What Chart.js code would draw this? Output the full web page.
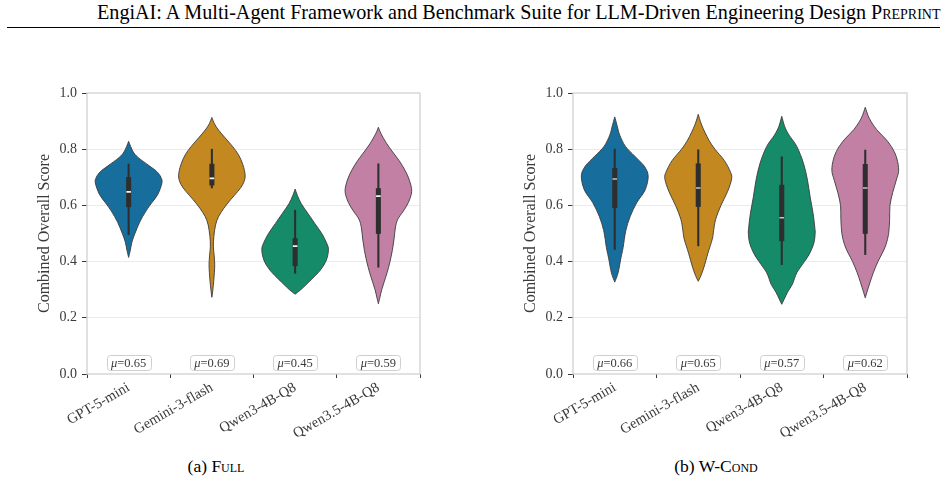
<!DOCTYPE html>
<html><head><meta charset="utf-8">
<script src="https://cdn.jsdelivr.net/npm/chart.js@4.4.1/dist/chart.umd.min.js"></script>
<style>
body{margin:0;width:948px;height:486px;position:relative;background:#fff;overflow:hidden;font-family:'Liberation Serif',serif;}
#hdr{position:absolute;top:1px;left:97px;font-size:20.3px;white-space:nowrap;color:#000;}
#pp{position:absolute;top:1px;left:871px;font-size:20.3px;white-space:nowrap;color:#000;font-variant:small-caps;}
#rule{position:absolute;top:27px;left:7px;width:933px;height:1px;background:#000;}
.cap{position:absolute;top:456px;font-size:17.5px;white-space:nowrap;transform:translateX(-50%);}
.cap .sc{font-variant:small-caps;}
canvas{position:absolute;}
</style></head>
<body>
<div id="hdr">EngiAI: A Multi-Agent Framework and Benchmark Suite for LLM-Driven Engineering Design</div>
<div id="pp">Preprint</div>
<div id="rule"></div>
<canvas id="c1" width="470" height="392" style="left:0;top:60px"></canvas>
<canvas id="c2" width="462" height="392" style="left:486px;top:60px"></canvas>
<div class="cap" style="left:216px">(a) <span class="sc">Full</span></div>
<div class="cap" style="left:716px">(b) W-<span class="sc">Cond</span></div>
<script>
// fit header text widths to the page layout
(function () {
  const fit = (id, target) => {
    const el = document.getElementById(id);
    const fs = parseFloat(getComputedStyle(el).fontSize);
    const w = el.getBoundingClientRect().width;
    if (w > 0) el.style.fontSize = (fs * target / w).toFixed(2) + 'px';
  };
  fit('hdr', 769);
  fit('pp', 69);
})();

// ---------------- data ----------------
const categories = ['GPT-5-mini', 'Gemini-3-flash', 'Qwen3-4B-Q8', 'Qwen3.5-4B-Q8'];
const violinColors = ['#176d9c', '#c38820', '#168b6a', '#c281a4'];

// (a) Full
const fullMeans = [0.65, 0.69, 0.45, 0.59];
const fullWhiskerLow = [0.496, 0.662, 0.358, 0.380];
const fullWhiskerHigh = [0.747, 0.800, 0.583, 0.748];
const fullQ1 = [0.595, 0.672, 0.385, 0.500];
const fullQ3 = [0.700, 0.747, 0.482, 0.660];
const fullMedian = [0.648, 0.696, 0.455, 0.633];
// violin outlines: [score, relative half-width]
const fullGptShape = [[0.415,0],[0.44,0.05],[0.47,0.10],[0.50,0.19],[0.54,0.33],[0.58,0.52],[0.61,0.70],[0.64,0.88],[0.68,1.0],[0.70,0.97],[0.72,0.85],[0.74,0.63],[0.77,0.29],[0.79,0.14],[0.81,0.06],[0.828,0]];
const fullGeminiShape = [[0.273,0],[0.30,0.03],[0.33,0.055],[0.36,0.075],[0.39,0.085],[0.42,0.07],[0.455,0.045],[0.49,0.06],[0.53,0.11],[0.56,0.20],[0.59,0.36],[0.62,0.56],[0.65,0.78],[0.675,0.93],[0.705,1.0],[0.745,0.93],[0.78,0.80],[0.81,0.62],[0.84,0.40],[0.868,0.20],[0.89,0.08],[0.913,0]];
const fullQwen3Shape = [[0.284,0],[0.30,0.17],[0.32,0.35],[0.335,0.48],[0.37,0.76],[0.406,0.94],[0.442,1.0],[0.465,0.95],[0.50,0.80],[0.536,0.59],[0.572,0.38],[0.607,0.18],[0.635,0.07],[0.658,0]];
const fullQwen35Shape = [[0.25,0],[0.27,0.04],[0.30,0.10],[0.33,0.18],[0.36,0.26],[0.40,0.35],[0.44,0.42],[0.48,0.47],[0.52,0.51],[0.55,0.58],[0.58,0.75],[0.61,0.90],[0.65,1.0],[0.69,0.93],[0.725,0.80],[0.76,0.62],[0.79,0.43],[0.82,0.25],[0.855,0.08],[0.878,0]];

// (b) W-Cond
const wcondMeans = [0.66, 0.65, 0.57, 0.62];
const wcondWhiskerLow = [0.443, 0.456, 0.389, 0.425];
const wcondWhiskerHigh = [0.800, 0.798, 0.773, 0.797];
const wcondQ1 = [0.592, 0.596, 0.474, 0.500];
const wcondQ3 = [0.732, 0.748, 0.672, 0.746];
const wcondMedian = [0.694, 0.662, 0.556, 0.662];
const wcondGptShape = [[0.327,0],[0.36,0.10],[0.41,0.18],[0.45,0.25],[0.51,0.33],[0.56,0.46],[0.61,0.66],[0.655,0.91],[0.705,1.0],[0.74,0.88],[0.775,0.60],[0.81,0.32],[0.85,0.15],[0.88,0.08],[0.915,0]];
const wcondGeminiShape = [[0.33,0],[0.35,0.08],[0.38,0.17],[0.43,0.29],[0.48,0.42],[0.51,0.46],[0.55,0.52],[0.60,0.68],[0.65,0.88],[0.695,1.0],[0.72,0.96],[0.76,0.78],[0.80,0.50],[0.83,0.33],[0.86,0.20],[0.89,0.09],[0.924,0]];
const wcondQwen3Shape = [[0.248,0],[0.29,0.17],[0.32,0.32],[0.36,0.45],[0.40,0.68],[0.43,0.84],[0.465,0.96],[0.50,1.0],[0.52,0.99],[0.57,0.94],[0.63,0.85],[0.69,0.77],[0.75,0.65],[0.81,0.45],[0.85,0.22],[0.88,0.09],[0.917,0]];
const wcondQwen35Shape = [[0.271,0],[0.295,0.06],[0.325,0.14],[0.36,0.24],[0.40,0.38],[0.43,0.51],[0.46,0.62],[0.50,0.70],[0.55,0.73],[0.60,0.74],[0.645,0.82],[0.69,0.93],[0.725,1.0],[0.765,0.95],[0.80,0.83],[0.835,0.62],[0.87,0.34],[0.91,0.12],[0.949,0]];

// ---------------- styling ----------------
const FONT = "'Liberation Serif', serif";
const TXT = '#3a3a3a';
const VIOLIN_HALF = 0.4;      // max half-width in category units
const LABEL_SCORE = 0.04;     // where the mean boxes sit

function splinePath(ctx, pts, first) {
  const n = pts.length;
  if (first) ctx.moveTo(pts[0][0], pts[0][1]);
  for (let i = 0; i < n - 1; i++) {
    const p0 = pts[Math.max(i - 1, 0)], p1 = pts[i], p2 = pts[i + 1], p3 = pts[Math.min(i + 2, n - 1)];
    const c1x = p1[0] + (p2[0] - p0[0]) / 6, c1y = p1[1] + (p2[1] - p0[1]) / 6;
    const c2x = p2[0] - (p3[0] - p1[0]) / 6, c2y = p2[1] - (p3[1] - p1[1]) / 6;
    ctx.bezierCurveTo(c1x, c1y, c2x, c2y, p2[0], p2[1]);
  }
}

const violinPlugin = {
  id: 'violins',
  beforeDatasetsDraw(chart, args, opts) {
    const {ctx, chartArea: a, scales: {x, y}} = chart;
    ctx.save();
    ctx.strokeStyle = '#d2d2d2';
    ctx.lineWidth = 1.3;
    ctx.strokeRect(a.left, a.top, a.right - a.left, a.bottom - a.top);
    opts.shapes.forEach((shape, i) => {
      const right = shape.map(([s, w]) => [x.getPixelForValue(i + w * VIOLIN_HALF), y.getPixelForValue(s)]);
      const left = shape.slice().reverse().map(([s, w]) => [x.getPixelForValue(i - w * VIOLIN_HALF), y.getPixelForValue(s)]);
      ctx.beginPath();
      splinePath(ctx, right, true);
      splinePath(ctx, left, false);
      ctx.closePath();
      ctx.fillStyle = violinColors[i];
      ctx.fill();
      ctx.strokeStyle = '#3b3b3b';
      ctx.lineWidth = 0.9;
      ctx.stroke();
    });
    ctx.restore();
  },
  afterDatasetsDraw(chart, args, opts) {
    const {ctx, scales: {x, y}} = chart;
    ctx.save();
    const fs = 12.5;
    opts.means.forEach((m, i) => {
      const cx = x.getPixelForValue(i), cy = y.getPixelForValue(LABEL_SCORE);
      ctx.font = `italic ${fs}px ${FONT}`;
      const wMu = ctx.measureText('\u03bc').width;
      ctx.font = `${fs}px ${FONT}`;
      const rest = '=' + m.toFixed(2);
      const wRest = ctx.measureText(rest).width;
      const tw = wMu + wRest;
      const bw = tw + 9, bh = 15;
      ctx.beginPath();
      ctx.roundRect(Math.round(cx - bw / 2) + 0.5, Math.round(cy - bh / 2) + 0.5, Math.round(bw), bh, 3);
      ctx.fillStyle = '#ffffff';
      ctx.fill();
      ctx.strokeStyle = '#cfcfcf';
      ctx.lineWidth = 1;
      ctx.stroke();
      ctx.fillStyle = TXT;
      ctx.textBaseline = 'middle';
      ctx.textAlign = 'left';
      const x0 = cx - tw / 2;
      ctx.font = `italic ${fs}px ${FONT}`;
      ctx.fillText('\u03bc', x0, cy + 0.5);
      ctx.font = `${fs}px ${FONT}`;
      ctx.fillText(rest, x0 + wMu, cy + 0.5);
    });
    ctx.restore();
  }
};

function makeChart(id, padRight, d) {
  return new Chart(document.getElementById(id), {
    type: 'bar',
    data: {
      labels: categories,
      datasets: [
        {
          type: 'line', data: d.median, showLine: false, order: 0,
          pointStyle: 'line', pointRadius: 2.3, pointBorderWidth: 1.6,
          pointBorderColor: d.medianColor, pointBackgroundColor: d.medianColor
        },
        {
          data: d.q1.map((v, i) => [v, d.q3[i]]), grouped: false, order: 1,
          barThickness: 4.4, backgroundColor: '#2e2e2e', borderWidth: 0, borderSkipped: false
        },
        {
          data: d.lo.map((v, i) => [v, d.hi[i]]), grouped: false, order: 2,
          barThickness: 1.4, backgroundColor: '#2e2e2e', borderWidth: 0, borderSkipped: false
        }
      ]
    },
    options: {
      responsive: false, animation: false, devicePixelRatio: 1,
      layout: {padding: {top: 33, right: padRight, left: 0, bottom: 0}},
      plugins: {
        legend: {display: false}, tooltip: {enabled: false},
        violins: {shapes: d.shapes, means: d.means}
      },
      scales: {
        x: {
          type: 'category', offset: true,
          border: {display: false},
          grid: {display: true, drawOnChartArea: false, drawTicks: true, tickLength: 4, tickColor: '#3a3a3a', tickWidth: 1},
          ticks: {minRotation: 30, maxRotation: 30, color: TXT, font: {family: FONT, size: 14.5}, padding: 1},
          afterFit(s) { s.height = 78; }
        },
        y: {
          min: 0, max: 1,
          border: {display: false},
          grid: {
            color: (c) => (c.tick && (Math.abs(c.tick.value) < 1e-6 || Math.abs(c.tick.value - 1) < 1e-6)) ? 'rgba(0,0,0,0)' : '#ebebeb',
            lineWidth: 1, tickColor: '#3a3a3a', tickLength: 5, tickWidth: 1
          },
          ticks: {stepSize: 0.2, padding: 5, color: TXT, font: {family: FONT, size: 14}, callback: (v) => Number(v).toFixed(1)},
          title: {display: true, text: 'Combined Overall Score', color: TXT, font: {family: FONT, size: 16}, padding: {top: 35, bottom: 0}},
          afterFit(s) { s.width = 87; }
        }
      }
    },
    plugins: [violinPlugin]
  });
}

makeChart('c1', 50, {
  median: fullMedian, q1: fullQ1, q3: fullQ3, lo: fullWhiskerLow, hi: fullWhiskerHigh,
  means: fullMeans, medianColor: '#f4f4f4',
  shapes: [fullGptShape, fullGeminiShape, fullQwen3Shape, fullQwen35Shape]
});
makeChart('c2', 41, {
  median: wcondMedian, q1: wcondQ1, q3: wcondQ3, lo: wcondWhiskerLow, hi: wcondWhiskerHigh,
  means: wcondMeans, medianColor: '#c4c4c4',
  shapes: [wcondGptShape, wcondGeminiShape, wcondQwen3Shape, wcondQwen35Shape]
});
</script>
</body></html>
